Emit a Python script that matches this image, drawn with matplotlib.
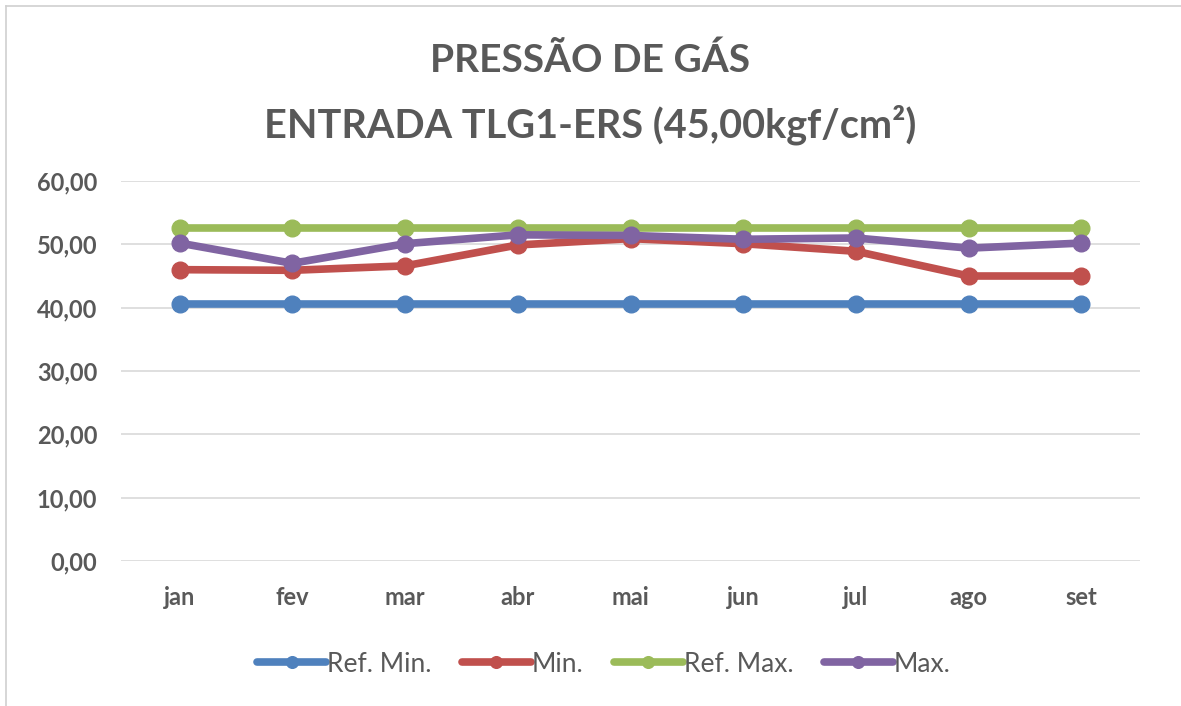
import matplotlib
matplotlib.use("Agg")
import matplotlib.pyplot as plt
from matplotlib.lines import Line2D

months = ["jan", "fev", "mar", "abr", "mai", "jun", "jul", "ago", "set"]
ref_min = [40.6] * 9
minimo = [46.0, 45.9, 46.6, 49.9, 50.9, 50.1, 48.9, 45.0, 45.0]
ref_max = [52.65] * 9
maximo = [50.2, 47.0, 50.1, 51.5, 51.4, 50.8, 51.0, 49.4, 50.2]
yticks = [0, 10, 20, 30, 40, 50, 60]
ytick_labels = ["0,00", "10,00", "20,00", "30,00", "40,00", "50,00", "60,00"]

plt.rcParams['font.family'] = ['Lato', 'DejaVu Sans']

fig = plt.figure(figsize=(11.81, 7.06), dpi=100)
fig.patch.set_facecolor("white")
# chart border (top/left visible)
fig.add_artist(Line2D([6/1181, 1.0], [1 - 6/706, 1 - 6/706], transform=fig.transFigure,
                      color="#D0D0D0", linewidth=1.2))
fig.add_artist(Line2D([6/1181, 6/1181], [0.0, 1 - 6/706], transform=fig.transFigure,
                      color="#D0D0D0", linewidth=1.2))

ax = fig.add_axes([121/1181, 1 - 561/706, (1140 - 121)/1181, (561 - 181)/706])
x = list(range(len(months)))
series = [(ref_min, "#4F81BD", "Ref. Min."), (minimo, "#C0504D", "Min."),
          (ref_max, "#9BBB59", "Ref. Max."), (maximo, "#8064A2", "Max.")]
for vals, col, lab in series:
    ax.plot(x, vals, color=col, linewidth=5.5, marker="o", markersize=12,
            label=lab, solid_capstyle="round")

ax.set_xlim(-0.52, len(months) - 0.48)
ax.set_ylim(0, 60)
ax.set_yticks(yticks)
ax.set_yticklabels(ytick_labels)
ax.set_xticks(x)
ax.set_xticklabels(months)
ax.grid(axis="y", color="#D9D9D9", linewidth=1.2)
ax.set_axisbelow(True)
for s in ax.spines.values():
    s.set_visible(False)
ax.tick_params(length=0, labelsize=17, colors="#595959")
for t in ax.get_xticklabels() + ax.get_yticklabels():
    t.set_fontweight("bold")
ax.tick_params(axis="y", pad=17)
ax.tick_params(axis="x", pad=18)

fig.text(0.5, 1 - 60/706, "PRESSÃO DE GÁS", ha="center", va="center",
         fontsize=28, fontweight="bold", color="#595959")
fig.text(0.5, 1 - 125/706, "ENTRADA TLG1-ERS (45,00kgf/cm²)", ha="center", va="center",
         fontsize=28.5, fontweight="bold", color="#595959")

leg = fig.legend(loc="center", bbox_to_anchor=(604/1181, 1 - 664/706), ncol=4,
                 frameon=False, fontsize=19, handlelength=2.6, handletextpad=0.05,
                 columnspacing=1.15, labelcolor="#595959", markerscale=0.7)

fig.savefig("out.png", dpi=100)
